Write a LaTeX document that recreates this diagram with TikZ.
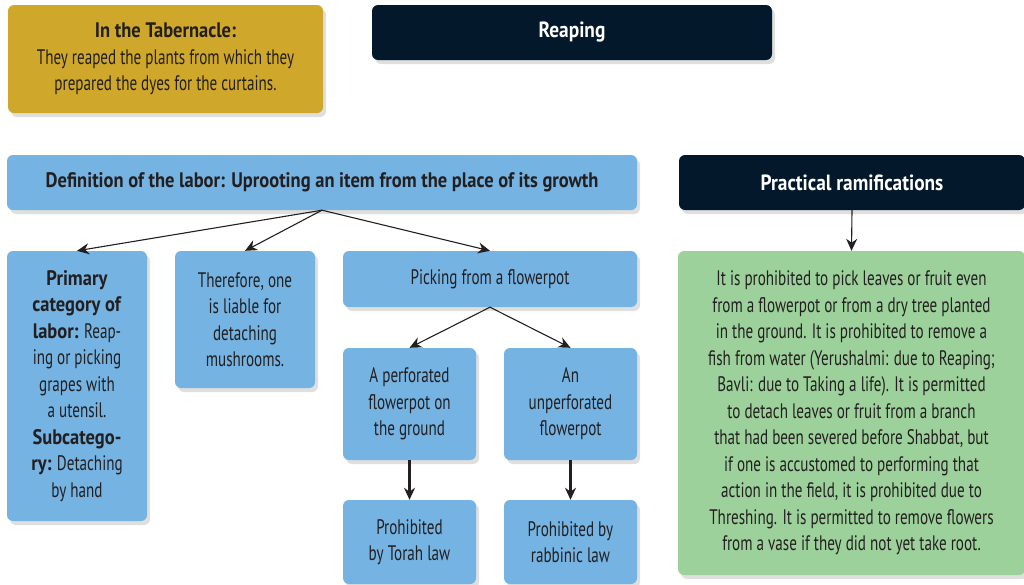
\documentclass[tikz,border=0pt]{standalone}
\usepackage{fontspec}
\setmainfont{PT Sans}[FakeStretch=0.72, BoldFeatures={FakeStretch=0.88}]
\usetikzlibrary{arrows.meta,shadows}

% --- 颜色 ---
\definecolor{tabgold}{HTML}{CFA72A}
\definecolor{headnavy}{HTML}{03182A}
\definecolor{skyblue}{HTML}{74B3E2}
\definecolor{leafgreen}{HTML}{9DD19B}
\definecolor{inktext}{HTML}{231F20}

\tikzset{
  box/.style={rounded corners=6pt, inner sep=0pt, align=center, text=inktext,
    font=\fontsize{21}{26.5}\selectfont,
    drop shadow={opacity=0.25, shadow xshift=3pt, shadow yshift=-4pt}},
  goldbox/.style={box, fill=tabgold},
  navybox/.style={box, fill=headnavy, text=white, font=\fontsize{22}{26}\selectfont\bfseries},
  bluebox/.style={box, fill=skyblue},
  greenbox/.style={box, fill=leafgreen},
  link/.style={-{Stealth[length=12pt,width=11pt]}, line width=1.1pt, draw=inktext},
  thicklink/.style={link, line width=2.2pt}
}

\begin{document}
\begin{tikzpicture}[x=1pt, y=-1pt] % 以像素为单位，y 轴向下

    % --- 画布大小 ---
    \useasboundingbox (0,0) rectangle (1024,584);

    % --- 1. 顶部两个框 ---
    \node[goldbox, minimum width=315, minimum height=108] (tab) at (165.5,59)
        {\textbf{In the Tabernacle:}\\They reaped the plants from which they\\prepared the dyes for the curtains.};
    \node[navybox, minimum width=400, minimum height=55] (reap) at (572,32.5) {Reaping};

    % --- 2. 第二行标题 ---
    \node[bluebox, minimum width=630, minimum height=55, font=\fontsize{21}{26}\selectfont\bfseries] (def) at (322,182.5)
        {Definition of the labor: Uprooting an item from the place of its growth};
    \node[navybox, minimum width=346, minimum height=55] (prac) at (852,182.5) {Practical ramifications};

    % --- 3. 左侧分支 ---
    \node[bluebox, minimum width=140, minimum height=270] (prim) at (77,386)
        {\textbf{Primary}\\\textbf{category of}\\\textbf{labor:} Reap-\\ing or picking\\grapes with\\a utensil.\\\textbf{Subcatego-}\\\textbf{ry:} Detaching\\by hand};
    \node[bluebox, minimum width=140, minimum height=137] (there) at (245,319.5)
        {Therefore, one\\is liable for\\detaching\\mushrooms.};
    \node[bluebox, minimum width=294, minimum height=56] (pick) at (490,279) {Picking from a flowerpot};

    % (a) 花盆的两种情况
    \node[bluebox, minimum width=133, minimum height=112] (perf) at (409.5,404)
        {A perforated\\flowerpot on\\the ground};
    \node[bluebox, minimum width=133, minimum height=112] (unperf) at (570.5,404)
        {An\\unperforated\\flowerpot};

    % (b) 结论
    \node[bluebox, minimum width=133, minimum height=84] (torah) at (409.5,542)
        {Prohibited\\by Torah law};
    \node[bluebox, minimum width=133, minimum height=84] (rabb) at (570.5,542)
        {Prohibited by\\rabbinic law};

    % --- 4. 右侧说明 ---
    \node[greenbox, minimum width=347, minimum height=324] (note) at (851.5,413)
        {It is prohibited to pick leaves or fruit even\\
         from a flowerpot or from a dry tree planted\\
         in the ground. It is prohibited to remove a\\
         fish from water (Yerushalmi: due to Reaping;\\
         Bavli: due to Taking a life). It is permitted\\
         to detach leaves or fruit from a branch\\
         that had been severed before Shabbat, but\\
         if one is accustomed to performing that\\
         action in the field, it is prohibited due to\\
         Threshing. It is permitted to remove flowers\\
         from a vase if they did not yet take root.};

    % --- 5. 箭头 ---
    \draw[link] (def.south) -- (prim.north);
    \draw[link] (def.south) -- (there.north);
    \draw[link] (def.south) -- (pick.north);
    \draw[link] (pick.south) -- (perf.north);
    \draw[link] (pick.south) -- (unperf.north);
    \draw[thicklink] (perf.south) -- (torah.north);
    \draw[thicklink] (unperf.south) -- (rabb.north);
    \draw[link] (prac.south) -- (note.north);

\end{tikzpicture}
\end{document}
